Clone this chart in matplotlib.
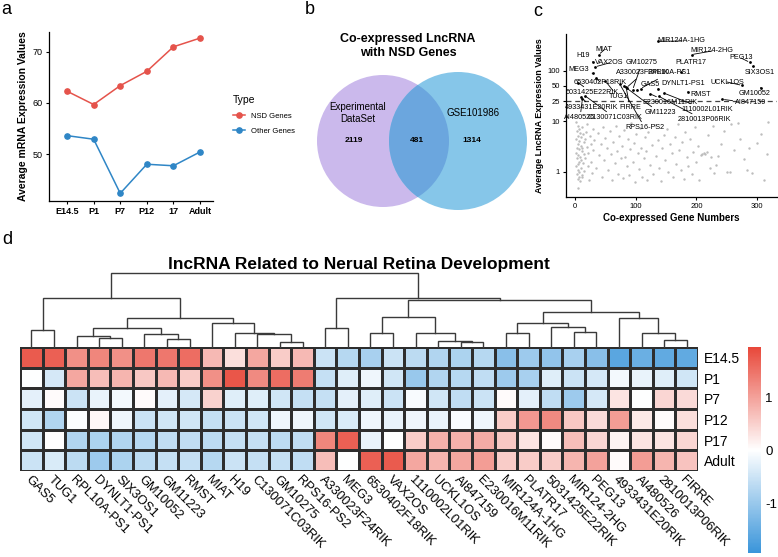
import matplotlib
matplotlib.use("Agg")
import matplotlib.pyplot as plt
import numpy as np
from matplotlib.patches import Circle
from matplotlib.colors import LinearSegmentedColormap

plt.rcParams['font.family'] = ['Liberation Sans', 'DejaVu Sans']
plt.rcParams['axes.unicode_minus'] = False

# ---------------- data ----------------
# panel a
stages = ["E14.5", "P1", "P7", "P12", "17", "Adult"]
nsd_genes = [62.3, 59.7, 63.4, 66.2, 71.0, 72.7]
other_genes = [53.6, 52.9, 42.3, 48.0, 47.7, 50.4]

# panel b
venn_counts = [2119, 481, 1314]
venn_sets = ["Experimental\nDataSet", "GSE101986"]

# panel c: labelled lncRNAs (co-expressed gene number, expression)
lab_names = ["MIR124A-1HG", "MIR124-2HG", "MIAT", "H19", "VAX2OS", "MEG3",
             "6530402F18RIK", "5031425E22RIK", "TUG1", "A330023F24RIK",
             "GM10275", "RPL10A-PS1", "GAS5", "DYNLT1-PS1", "PLATR17", "PEG13",
             "SIX3OS1", "UCKL1OS", "GM10052", "RMST", "AI847159",
             "E230016M11RIK", "1110002L01RIK", "2810013P06RIK", "GM11223",
             "RPS16-PS2", "FIRRE", "4933431E20RIK", "AI480526", "C130071C03RIK"]
lab_x = [137, 192, 39, 29, 33, 29, 34, 5, 50, 85, 95, 108, 102, 137, 175, 288,
         293, 275, 306, 186, 243, 123, 146, 138, 80, 74, 84, 10, 12, 16]
lab_y = [376, 206, 206, 148, 118, 88, 72, 58, 62, 46, 42, 44, 41, 44, 95, 145,
         121, 51, 46, 38, 27, 35, 36, 31, 50, 53, 48, 30, 27, 32]
# other lncRNAs (grey points)
grey_x = [2, 4, 6, 3, 8, 5, 10, 2, 7, 4, 9, 3, 6, 11, 2, 5, 8, 3, 10, 6, 4, 2, 9, 5, 7, 3, 11, 6, 4, 8, 5,
          12, 13, 14, 12, 15, 13, 14, 12, 16, 18, 17, 19, 20, 21, 22, 24, 23, 26, 27, 29, 30, 28, 32,
          35, 37, 40, 42, 44, 46, 48, 50, 52, 55, 57, 59, 61, 63, 65, 67, 69, 71, 73, 75, 77, 79, 81,
          83, 85, 87, 89, 91, 93, 95, 97, 99, 101, 103, 105, 107, 109, 111, 113, 115, 117, 119,
          121, 124, 127, 129, 132, 134, 137, 139, 142, 144, 147, 149, 152, 154, 157, 159, 162, 164,
          167, 169, 172, 174, 177, 179, 182, 184, 187, 189, 192, 194, 197, 199, 202, 204, 207, 209,
          212, 214, 217, 219, 222, 224, 227, 229,
          233, 236, 240, 245, 250, 255, 257, 262, 268, 272, 278, 284, 287, 291, 300, 307, 312, 317, 318]
grey_y = [9.5, 8.2, 7.1, 6.3, 5.8, 5.2, 4.9, 4.4, 4.0, 3.6, 3.3, 3.0, 2.8, 2.6, 2.4, 2.2, 2.0, 1.85,
          1.7, 1.6, 1.45, 1.3, 1.2, 1.1, 1.0, 0.92, 0.85, 0.8, 0.72, 0.66, 0.48,
          7.6, 5.5, 3.9, 2.9, 2.3, 1.5, 1.05, 0.78, 4.4, 6.0, 1.9, 3.1, 8.9, 1.3, 2.4, 5.0, 0.7, 3.6,
          1.6, 7.0, 2.7, 0.95, 4.2,
          1.2, 5.8, 2.2, 3.5, 0.8, 7.8, 1.7, 4.6, 2.9, 1.1, 6.3, 2.3, 0.68, 3.9, 1.5, 8.2, 2.6, 0.9,
          5.1, 1.9, 3.2, 0.75, 6.8, 2.0, 1.3, 4.4, 0.85, 2.8, 9.2, 1.6, 3.7, 0.62, 5.6, 2.4, 1.15,
          7.4, 3.0, 0.8, 1.9, 4.9, 2.6, 0.7,
          6.1, 1.4, 3.4, 0.9, 8.4, 2.1, 4.3, 1.2, 0.66, 2.9, 5.3, 1.7, 7.0, 1.0, 3.6, 2.4, 0.8, 4.8,
          1.45, 9.0, 2.7, 1.1, 3.9, 0.72, 6.0, 2.0, 1.3, 4.5, 0.9, 2.5, 7.6, 1.6, 3.2, 0.68, 2.2, 2.3,
          2.4, 2.3, 2.5, 5.4, 1.2, 2.0, 8.0, 0.95,
          1.4, 2.1, 3.6, 6.4, 1.0, 0.98, 8.7, 2.7, 9.4, 4.5, 1.8, 1.1, 2.9, 0.94, 3.8, 5.6, 0.7, 2.3, 9.5]
cutoff = 25

# panel d
time_points = ["E14.5", "P1", "P7", "P12", "P17", "Adult"]
heat_genes = ["GAS5", "TUG1", "RPL10A-PS1", "DYNLT1-PS1", "SIX3OS1", "GM10052", "GM11223",
              "RMST", "MIAT", "H19", "C130071C03RIK", "GM10275", "RPS16-PS2", "A330023F24RIK",
              "MEG3", "6530402F18RIK", "VAX2OS", "1110002L01RIK", "UCKL1OS", "AI847159",
              "E230016M11RIK", "MIR124A-1HG", "PLATR17", "5031425E22RIK", "MIR124-2HG",
              "PEG13", "4933431E20RIK", "AI480526", "2810013P06RIK", "FIRRE"]
row_e145 = [1.75, 1.7, 1.2, 1.3, 1.2, 1.45, 1.45, 1.55, 0.75, 0.35, 0.95, 0.55, 0.75, -0.5, -0.7,
            -0.85, -0.5, -0.65, -0.75, -0.8, -0.7, -1.15, -0.95, -1.05, -0.85, -1.15, -1.6, -1.45, -1.55, -1.55]
row_p1 = [0.0, -0.4, 0.95, 0.7, 0.8, 0.6, 0.75, 0.55, 1.2, 1.8, 1.25, 1.55, 1.4, -0.55, -0.3,
          -0.15, -0.45, -1.0, -0.75, -0.7, -0.6, -0.95, -0.85, -0.3, -0.5, -0.4, -0.1, -0.2, -0.3, -0.45]
row_p7 = [-0.25, 0.05, -0.5, -0.2, -0.1, 0.05, -0.25, -0.4, 0.5, -0.3, -0.3, -0.45, -0.55, -0.55, -0.25,
          -0.3, -0.5, -0.05, -0.45, -0.6, -0.5, 0.05, -0.25, -0.6, -0.95, -0.4, 0.3, 0.0, 0.45, 0.4]
row_p12 = [-0.45, -0.75, -0.02, 0.1, -0.15, -0.5, -0.45, -0.45, -0.55, -0.5, -0.45, -0.15, -0.15, -0.45, -0.35,
           -0.15, -0.2, -0.15, -0.2, -0.05, -0.15, 0.55, 1.1, 1.25, 0.6, 0.4, 1.05, 0.25, 0.05, 0.35]
row_p17 = [-0.45, 0.03, -0.75, -0.8, -0.75, -0.7, -0.6, -0.6, -0.65, -0.55, -0.55, -0.65, -0.6, 1.3, 1.7,
           -0.2, 0.0, 0.55, 0.85, 0.85, 0.9, 0.6, 0.3, 0.05, 0.7, 0.45, 0.15, 0.3, 0.3, 0.45]
row_adult = [-0.5, -0.35, -0.65, -0.95, -0.8, -0.65, -0.55, -0.55, -0.7, -0.5, -0.55, -0.55, -0.6, 0.7, 0.0,
             1.7, 1.75, 0.95, 0.8, 0.95, 1.05, 0.55, 0.55, 0.55, 0.8, 1.0, 0.05, 1.05, 0.8, 0.65]
# column dendrogram merges (left node, right node, height); new nodes numbered from 30
merges = [(0, 1, 17), (3, 4, 9.3), (2, 31, 11.3), (6, 7, 7.7), (5, 33, 12.7), (32, 34, 18.7),
          (11, 12, 5.3), (10, 36, 12.7), (9, 37, 14.3), (8, 38, 23.7), (35, 39, 28.7), (30, 40, 48.7),
          (13, 14, 18.7), (15, 16, 13.7), (19, 20, 5.3), (18, 44, 6), (17, 45, 14.3), (43, 46, 29.7),
          (21, 22, 14.3), (24, 25, 15), (23, 49, 19.7), (48, 50, 24.3), (28, 29, 7), (27, 52, 14),
          (26, 53, 29), (51, 54, 35), (47, 55, 47), (42, 56, 48.7), (41, 57, 74)]

# ---------------- figure ----------------
W, H = 778, 557
fig = plt.figure(figsize=(W / 100, H / 100), dpi=100)


def px_axes(x0, y0, x1, y1):
    return fig.add_axes([x0 / W, 1 - y1 / H, (x1 - x0) / W, (y1 - y0) / H])


def panel_letter(x, y, s):
    fig.text(x / W, 1 - y / H, s, fontsize=13, ha='center', va='center')


red = '#E5534B'
blue = '#2F86C6'

# ---- a ----
ax = px_axes(49, 32, 213, 201)
xs = np.arange(len(stages))
l1, = ax.plot(xs, nsd_genes, '-o', color=red, lw=1.1, ms=3.8)
l2, = ax.plot(xs, other_genes, '-o', color=blue, lw=1.1, ms=3.8)
ax.set_xlim(-0.68, 5.49)
ax.set_ylim(40.8, 73.9)
ax.set_xticks(xs)
ax.set_xticklabels(stages, fontsize=6, fontweight='bold')
ax.set_yticks([50, 60, 70])
ax.tick_params(labelsize=6.5, length=2.5, width=0.8, pad=2)
ax.set_ylabel("Average mRNA Expression Values", fontsize=7.5, fontweight='bold', labelpad=3)
for s in ['top', 'right']:
    ax.spines[s].set_visible(False)
for s in ['left', 'bottom']:
    ax.spines[s].set_linewidth(0.9)
leg = ax.legend([l1, l2], ["NSD Genes", "Other Genes"], title="Type", loc='upper left',
                bbox_to_anchor=(226 / W, 1 - 88 / H), bbox_transform=fig.transFigure,
                frameon=False, fontsize=5.5, title_fontsize=7.5, handlelength=1.6,
                labelspacing=1.0, alignment='left')
panel_letter(6, 10, "a")

# ---- b ----
axb = px_axes(290, 25, 540, 225)
axb.set_xlim(290, 540)
axb.set_ylim(225, 25)
axb.axis('off')
c_left = Circle((383, 141), 66, facecolor='#CBB9EC', edgecolor='none')
c_right = Circle((458, 141), 69, facecolor='#86C6E9', edgecolor='none')
c_mid = Circle((458, 141), 69, facecolor='#6BA6DE', edgecolor='none')
axb.add_patch(c_left)
axb.add_patch(c_right)
axb.add_patch(c_mid)
c_mid.set_clip_path(c_left)
axb.text(408, 46, "Co-expressed LncRNA\nwith NSD Genes", ha='center', va='center',
         fontsize=9, fontweight='bold', linespacing=1.2)
axb.text(358, 113, venn_sets[0], ha='center', va='center', fontsize=7, linespacing=1.15)
axb.text(473, 113, venn_sets[1], ha='center', va='center', fontsize=7)
for xc, n in zip([354, 417, 472], venn_counts):
    axb.text(xc, 140, str(n), ha='center', va='center', fontsize=6, fontweight='bold')
panel_letter(310, 10, "b")

# ---- c ----
axc = px_axes(566, 34, 777, 197)
axc.scatter(grey_x, grey_y, s=3, color='#BDBDBD', linewidths=0)
axc.scatter(lab_x, lab_y, s=4, color='black', linewidths=0, zorder=3)
axc.axhline(cutoff, color='#444444', lw=0.9, ls=(0, (4, 3)))
axc.set_yscale('log')
axc.set_ylim(0.32, 525)
axc.set_xlim(-15, 333)
axc.set_yticks([1, 10, 25, 50, 100])
axc.set_yticklabels(["1", "10", "25", "50", "100"])
axc.minorticks_off()
axc.set_xticks([0, 100, 200, 300])
axc.tick_params(labelsize=5.5, length=2.5, width=0.8, pad=2)
axc.set_xlabel("Co-expressed Gene Numbers", fontsize=7, fontweight='bold', labelpad=2)
axc.set_ylabel("Average LncRNA Expression Values", fontsize=6.5, fontweight='bold', labelpad=2)
for s in ['top', 'right']:
    axc.spines[s].set_visible(False)
for s in ['left', 'bottom']:
    axc.spines[s].set_linewidth(0.9)

# label positions (pixels in figure), converted to data coords
lab_txt_px = [(681, 41), (712, 51), (604, 50), (583, 56), (609, 63), (579, 70), (600, 82), (592, 93),
              (618, 97), (643, 73), (642, 63), (669, 73), (650, 85), (683, 84), (691, 63), (741, 58),
              (760, 73), (727, 82), (755, 94), (701, 95), (751, 103), (670, 103), (707, 110), (704, 120),
              (660, 113), (645, 128), (630, 108), (592, 108), (580, 118), (615, 118)]
inv = axc.transData.inverted()
for name, x, y, (px, py) in zip(lab_names, lab_x, lab_y, lab_txt_px):
    tx, ty = inv.transform((px, H - py))
    axc.annotate(name, xy=(x, y), xytext=(tx, ty), textcoords='data', fontsize=5.2,
                 ha='center', va='center', annotation_clip=False,
                 arrowprops=dict(arrowstyle='-', color='black', lw=0.6, shrinkA=0, shrinkB=1.5))
panel_letter(538, 12, "c")

# ---- d ----
panel_letter(7, 240, "d")
fig.text(359 / W, 1 - 264 / H, "lncRNA Related to Nerual Retina Development",
         ha='center', va='center', fontsize=12.5, fontweight='bold')

cmap = LinearSegmentedColormap.from_list('bwr_ph', ['#3A95DA', '#FFFFFF', '#E8483A'])
mat = np.array([row_e145, row_p1, row_p7, row_p12, row_p17, row_adult])
axh = px_axes(20, 347, 698, 471)
mesh = axh.pcolormesh(mat, cmap=cmap, vmin=-1.93, vmax=1.96, edgecolors='#2E2E2E', linewidth=0.9)
axh.set_xlim(0, len(heat_genes))
axh.set_ylim(len(time_points), 0)
axh.set_xticks(np.arange(len(heat_genes)) + 0.5)
axh.set_xticklabels(heat_genes, rotation=-45, ha='left', va='top', rotation_mode='anchor', fontsize=9.3)
axh.yaxis.tick_right()
axh.set_yticks(np.arange(len(time_points)) + 0.5)
axh.set_yticklabels(time_points, fontsize=10)
axh.tick_params(axis='y', length=0, pad=4)
axh.tick_params(axis='x', length=0, pad=2)
for s in axh.spines.values():
    s.set_visible(False)

# dendrogram
axd = px_axes(20, 270, 698, 347)
axd.set_xlim(0, len(heat_genes))
axd.set_ylim(0, 77)
axd.axis('off')
pos = {i: i + 0.5 for i in range(len(heat_genes))}
hgt = {i: 0.0 for i in range(len(heat_genes))}
node = len(heat_genes)
for a, b, h in merges:
    xa, xb = pos[a], pos[b]
    axd.plot([xa, xa, xb, xb], [hgt[a], h, h, hgt[b]], color='#3A3A3A', lw=1.0,
             solid_joinstyle='miter', clip_on=False)
    pos[node] = (xa + xb) / 2
    hgt[node] = h
    node += 1

cax = px_axes(748, 347, 761, 553)
cb = fig.colorbar(mesh, cax=cax, ticks=[-1, 0, 1])
cb.outline.set_visible(False)
cax.tick_params(length=0, labelsize=9.5, pad=3)

fig.savefig("out.png", dpi=100)
